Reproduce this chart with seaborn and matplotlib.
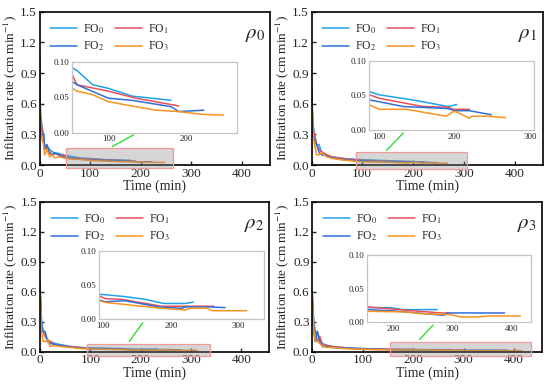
import numpy as np
import pandas as pd
import matplotlib
matplotlib.use('Agg')
import matplotlib.pyplot as plt
import seaborn as sns
from matplotlib.patches import Rectangle, ConnectionPatch

# series names and colours
series = ['FO0', 'FO1', 'FO2', 'FO3']
labels = ['FO$_0$', 'FO$_1$', 'FO$_2$', 'FO$_3$']
colors = ['#1fa3ea', '#e8505b', '#2f6fd8', '#f7931e']
panel_names = [r'$\rho_0$', r'$\rho_1$', r'$\rho_2$', r'$\rho_3$']

# rho0
t_p0_fo0 = [0, 2, 5, 8, 10, 15, 20, 25, 30, 40, 50, 60, 80, 100, 130, 180]
v_p0_fo0 = [1.0, 0.5, 0.38, 0.3, 0.2, 0.18, 0.15, 0.13, 0.12, 0.11, 0.095, 0.088, 0.068, 0.063, 0.052, 0.046]
t_p0_fo1 = [0, 2, 5, 8, 10, 15, 20, 25, 30, 40, 50, 60, 100, 135, 190]
v_p0_fo1 = [1.1, 0.45, 0.35, 0.25, 0.2, 0.15, 0.12, 0.1, 0.11, 0.1, 0.09, 0.068, 0.059, 0.049, 0.038]
t_p0_fo2 = [0, 2, 5, 8, 10, 15, 20, 25, 30, 40, 50, 60, 100, 130, 180, 190, 222]
v_p0_fo2 = [0.95, 0.4, 0.3, 0.3, 0.15, 0.2, 0.12, 0.1, 0.12, 0.09, 0.075, 0.068, 0.049, 0.046, 0.037, 0.030, 0.032]
t_p0_fo3 = [0, 2, 5, 8, 10, 15, 20, 25, 30, 40, 50, 60, 80, 100, 160, 190, 220, 247]
v_p0_fo3 = [0.8, 0.35, 0.25, 0.2, 0.1, 0.15, 0.08, 0.1, 0.07, 0.08, 0.066, 0.059, 0.054, 0.044, 0.032, 0.030, 0.026, 0.025]

# rho1
t_p1_fo0 = [0, 3, 6, 10, 15, 20, 30, 40, 60, 80, 100, 145, 192, 203]
v_p1_fo0 = [0.7, 0.4, 0.3, 0.2, 0.2, 0.12, 0.09, 0.08, 0.065, 0.058, 0.051, 0.0435, 0.034, 0.037]
t_p1_fo1 = [0, 3, 6, 10, 15, 20, 30, 40, 60, 80, 100, 158, 192, 198, 220]
v_p1_fo1 = [0.8, 0.35, 0.3, 0.2, 0.15, 0.13, 0.1, 0.08, 0.065, 0.054, 0.046, 0.034, 0.033, 0.030, 0.030]
t_p1_fo2 = [0, 3, 6, 10, 15, 20, 30, 40, 60, 80, 100, 132, 192, 200, 220, 249]
v_p1_fo2 = [0.75, 0.3, 0.25, 0.2, 0.12, 0.1, 0.09, 0.07, 0.055, 0.045, 0.041, 0.034, 0.031, 0.028, 0.028, 0.022]
t_p1_fo3 = [0, 3, 6, 10, 15, 20, 30, 40, 60, 80, 100, 136, 189, 200, 220, 223, 242, 268]
v_p1_fo3 = [0.65, 0.3, 0.2, 0.1, 0.1, 0.12, 0.08, 0.065, 0.05, 0.04, 0.030, 0.030, 0.020, 0.0275, 0.017, 0.020, 0.020, 0.018]

# rho2
t_p2_fo0 = [0, 3, 6, 10, 15, 20, 30, 40, 60, 80, 94, 132, 162, 189, 221, 233]
v_p2_fo0 = [0.6, 0.3, 0.2, 0.2, 0.1, 0.1, 0.08, 0.07, 0.05, 0.04, 0.0365, 0.033, 0.029, 0.023, 0.023, 0.025]
t_p2_fo1 = [0, 3, 6, 10, 15, 20, 30, 40, 60, 80, 94, 103, 127, 157, 186, 221, 263]
v_p2_fo1 = [0.7, 0.25, 0.2, 0.15, 0.12, 0.1, 0.07, 0.06, 0.05, 0.04, 0.034, 0.030, 0.029, 0.024, 0.019, 0.019, 0.019]
t_p2_fo2 = [0, 3, 6, 10, 15, 20, 30, 40, 60, 80, 94, 103, 132, 182, 216, 221, 256, 280]
v_p2_fo2 = [0.65, 0.3, 0.2, 0.2, 0.1, 0.08, 0.07, 0.06, 0.045, 0.035, 0.028, 0.0255, 0.027, 0.018, 0.016, 0.018, 0.018, 0.017]
t_p2_fo3 = [0, 3, 6, 10, 15, 20, 30, 40, 60, 80, 94, 103, 186, 221, 228, 253, 261, 312]
v_p2_fo3 = [0.6, 0.2, 0.1, 0.1, 0.12, 0.05, 0.06, 0.05, 0.04, 0.03, 0.027, 0.0245, 0.016, 0.0135, 0.016, 0.016, 0.0125, 0.0125]

# rho3
t_p3_fo0 = [0, 3, 6, 10, 15, 20, 30, 40, 60, 80, 100, 130, 155, 195, 215, 274]
v_p3_fo0 = [0.55, 0.3, 0.2, 0.2, 0.1, 0.08, 0.06, 0.05, 0.04, 0.035, 0.03, 0.025, 0.0215, 0.0215, 0.0185, 0.0185]
t_p3_fo1 = [0, 3, 6, 10, 15, 20, 30, 40, 60, 80, 100, 130, 155, 223, 280, 295]
v_p3_fo1 = [0.6, 0.25, 0.2, 0.1, 0.15, 0.07, 0.06, 0.05, 0.04, 0.03, 0.028, 0.025, 0.0225, 0.0175, 0.0135, 0.0135]
t_p3_fo2 = [0, 3, 6, 10, 15, 20, 30, 40, 60, 80, 100, 130, 155, 201, 252, 285, 291, 388]
v_p3_fo2 = [0.5, 0.2, 0.1, 0.2, 0.1, 0.05, 0.05, 0.04, 0.035, 0.03, 0.025, 0.021, 0.0185, 0.0165, 0.0125, 0.010, 0.0135, 0.0135]
t_p3_fo3 = [0, 3, 6, 10, 15, 20, 30, 40, 60, 80, 100, 130, 155, 223, 246, 297, 314, 342, 364, 415]
v_p3_fo3 = [0.5, 0.2, 0.1, 0.1, 0.08, 0.05, 0.04, 0.04, 0.03, 0.025, 0.022, 0.018, 0.016, 0.015, 0.0125, 0.011, 0.0075, 0.0075, 0.009, 0.009]

panels = [
    [(t_p0_fo0, v_p0_fo0), (t_p0_fo1, v_p0_fo1), (t_p0_fo2, v_p0_fo2), (t_p0_fo3, v_p0_fo3)],
    [(t_p1_fo0, v_p1_fo0), (t_p1_fo1, v_p1_fo1), (t_p1_fo2, v_p1_fo2), (t_p1_fo3, v_p1_fo3)],
    [(t_p2_fo0, v_p2_fo0), (t_p2_fo1, v_p2_fo1), (t_p2_fo2, v_p2_fo2), (t_p2_fo3, v_p2_fo3)],
    [(t_p3_fo0, v_p3_fo0), (t_p3_fo1, v_p3_fo1), (t_p3_fo2, v_p3_fo2), (t_p3_fo3, v_p3_fo3)],
]

# zoom windows (time range) and inset ticks
zoom_x = [(53, 264), (87, 306), (93.6, 338), (155, 433)]
inset_xticks = [[100, 200], [100, 200, 300], [100, 200, 300], [200, 300, 400]]

sns.set_style("ticks")
plt.rcParams['font.family'] = ['Liberation Serif', 'DejaVu Serif']
plt.rcParams['mathtext.fontset'] = 'stix'

W, H = 550, 389
fig = plt.figure(figsize=(5.5, 3.89), dpi=100)

# layout in pixels (left, top, right, bottom)
main_px = [(39.5, 11.7, 270, 165), (311.5, 11.7, 542.5, 165),
           (40, 201.7, 269, 351.5), (312.3, 201.7, 541.7, 351.5)]
inset_px = [(71.7, 62.3, 236.7, 132.7), (369.3, 61, 534.3, 130),
            (99, 250.5, 264.3, 319.3), (367, 255, 531, 322)]
rect_y = [(-0.03, 0.167), (-0.04, 0.124), (-0.05, 0.077), (-0.043, 0.10)]
green_x = [(139, 137), (144, 136), (174, 162), (209, 272)]


def px_axes(l, t, r, b):
    return fig.add_axes([l / W, 1 - b / H, (r - l) / W, (b - t) / H])


for i in range(4):
    ax = px_axes(*main_px[i])
    ins = px_axes(*inset_px[i])
    for j in range(4):
        t, v = panels[i][j]
        df = pd.DataFrame({'Time': t, 'Rate': v})
        sns.lineplot(data=df, x='Time', y='Rate', ax=ax, color=colors[j],
                     lw=1.1, label=labels[j], sort=False, estimator=None)
        sns.lineplot(data=df, x='Time', y='Rate', ax=ins, color=colors[j],
                     lw=1.1, sort=False, estimator=None, legend=False)

    ax.set_xlim(0, 455)
    ax.set_ylim(0, 1.5)
    ax.set_xticks([0, 100, 200, 300, 400])
    ax.set_yticks([0, 0.3, 0.6, 0.9, 1.2, 1.5])
    ax.set_yticklabels(['0.0', '0.3', '0.6', '0.9', '1.2', '1.5'])
    ax.tick_params(direction='in', length=3, width=1, labelsize=9.5, pad=2)
    for s in ax.spines.values():
        s.set_linewidth(1.2)
        s.set_color('black')
    ax.set_xlabel('Time (min)', fontsize=10, labelpad=0)
    ax.set_ylabel('Infiltration rate (cm min$^{-1}$)', fontsize=9.5, labelpad=1)
    ax.text(0.935, 0.85, panel_names[i], transform=ax.transAxes,
            fontsize=15, ha='center', va='center')
    h, l = ax.get_legend_handles_labels()
    order = [0, 2, 1, 3]
    ax.legend([h[k] for k in order], [l[k] for k in order],
              loc='upper left', bbox_to_anchor=(0.0, 1.0), ncol=2,
              frameon=False, fontsize=8.5, handlelength=2.3,
              columnspacing=0.9, labelspacing=0.35, handletextpad=0.5)

    x0, x1 = zoom_x[i]
    y0, y1 = rect_y[i]
    ax.add_patch(Rectangle((x0, y0), x1 - x0, y1 - y0, facecolor=(0.55, 0.55, 0.55, 0.35),
                           edgecolor='#f29a9a', lw=0.9, clip_on=False, zorder=5))

    ins.set_xlim(x0, x1)
    ins.set_ylim(0, 0.10)
    ins.set_xticks(inset_xticks[i])
    ins.set_yticks([0, 0.05, 0.10])
    ins.set_yticklabels(['0.00', '0.05', '0.10'])
    ins.set_xlabel('')
    ins.set_ylabel('')
    ins.tick_params(length=0, labelsize=6.5, pad=2)
    for s in ins.spines.values():
        s.set_linewidth(0.9)
        s.set_color('#c4c4c4')

    con = ConnectionPatch(xyA=(green_x[i][0], y1), coordsA=ax.transData,
                          xyB=(green_x[i][1], 0), coordsB=ins.transData,
                          color='#33dd33', lw=1.0, shrinkA=2, shrinkB=3)
    fig.add_artist(con)

fig.savefig('out.png', dpi=100)
